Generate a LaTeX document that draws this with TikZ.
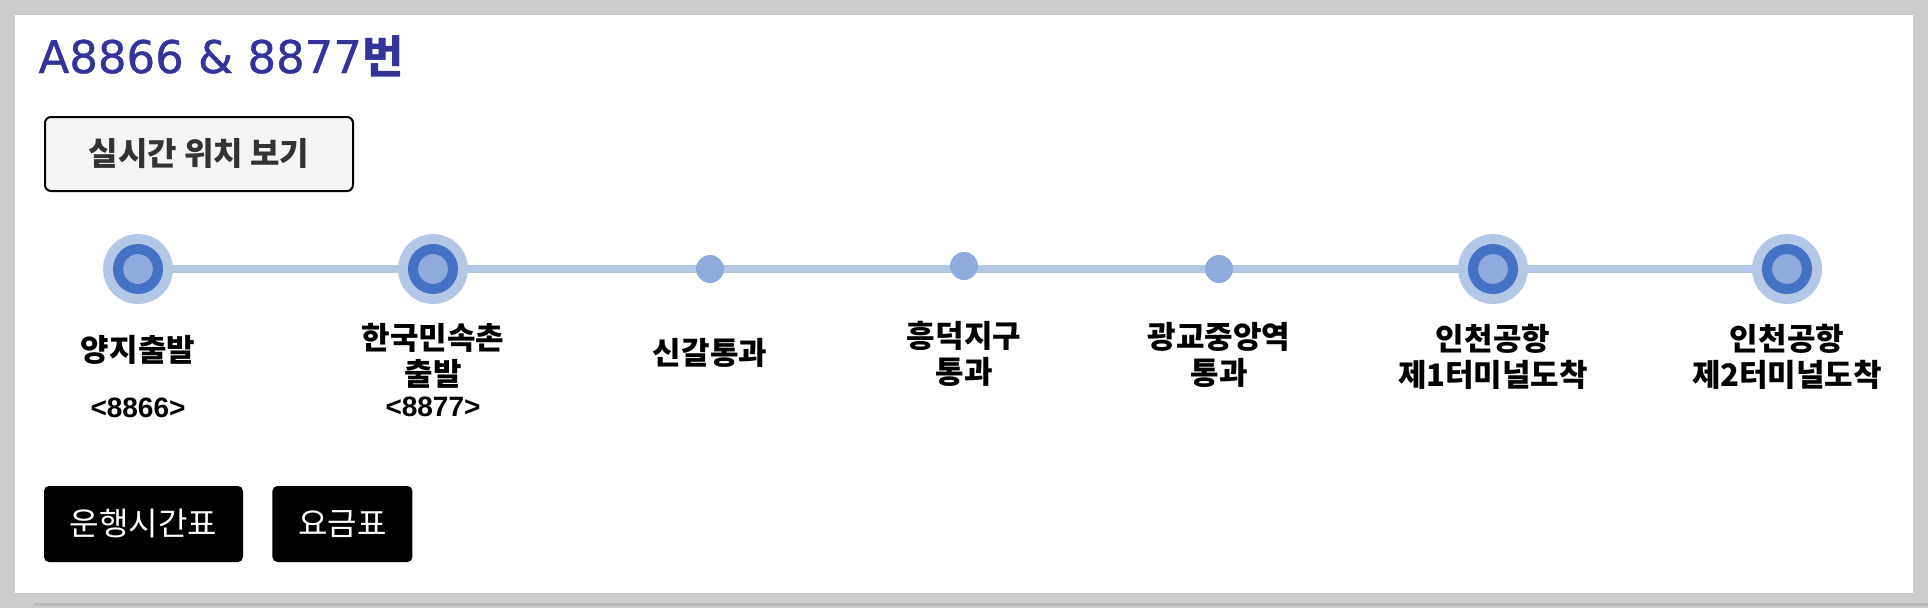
\documentclass[tikz,border=0pt]{standalone}
\usepackage{fontspec}
\setmainfont{Noto Sans CJK KR}
\newfontfamily\titlefont[FakeBold=0.8]{DejaVu Sans}
\newfontfamily\codefont{Liberation Sans}
\usepackage{tikz}
\usetikzlibrary{positioning, backgrounds}
\tikzset{>=latex}
\definecolor{titleblue}{RGB}{51, 51, 153}
\definecolor{routelight}{RGB}{180, 199, 231}
\definecolor{routemid}{RGB}{143, 170, 220}
\definecolor{routedark}{RGB}{68, 114, 196}
\definecolor{panelgray}{RGB}{204, 204, 204}
\definecolor{edgegray}{RGB}{187, 187, 187}
\definecolor{btnfill}{RGB}{245, 245, 245}
\definecolor{btntext}{RGB}{51, 51, 51}
\tikzset{
  bigstop/.style={circle, inner sep=0pt, minimum size=40pt, fill=routemid,
    draw=routedark, line width=10pt, preaction={draw=routelight, line width=30pt}},
  smallstop/.style={circle, inner sep=0pt, minimum size=28pt, fill=routemid},
  route/.style={routelight, line width=8pt},
  stoplabel/.style={align=center, font=\fontsize{31}{36}\selectfont\bfseries},
  stopcode/.style={font=\fontsize{28}{30}\selectfont\codefont\bfseries},
  graybtn/.style={draw=black, line width=2pt, fill=btnfill, rounded corners=6pt,
    text=btntext, font=\fontsize{32}{34}\selectfont\bfseries},
  blackbtn/.style={fill=black, rounded corners=5pt, text=white,
    font=\fontsize{32}{34}\selectfont}
}

\begin{document}
\begin{tikzpicture}[x=1pt, y=-1pt]
\useasboundingbox (0, 0) rectangle (1928, 608);
\begin{pgfonlayer}{background}
\fill[panelgray] (0, 0) rectangle (1928, 608);
\fill[white] (15, 15) rectangle (1913, 593);
\fill[edgegray] (34, 603) rectangle (1928, 606);
\end{pgfonlayer}

\node[anchor=base west, text=titleblue, font=\fontsize{45}{50}\selectfont] (title) at (35, 73)
  {{\titlefont A8866 \& 8877}\bfseries 번};
\node[graybtn, minimum width=308pt, minimum height=74pt] (live) at (199, 154) {실시간 위치 보기};

\node[bigstop] (yangji) at (138, 269) {};
\node[bigstop] (minsok) at (433, 269) {};
\node[smallstop] (singal) at (710, 269) {};
\node[smallstop] (heungdeok) at (964, 266) {};
\node[smallstop] (gwanggyo) at (1219, 269) {};
\node[bigstop] (airport1) at (1493, 269) {};
\node[bigstop] (airport2) at (1787, 269) {};

\begin{pgfonlayer}{background}
\draw[route] (yangji.center) -- (airport2.center);
\end{pgfonlayer}

\node[stoplabel, below=81pt of yangji.center, anchor=center] (yangjilab) {양지출발};
\node[stoplabel, below=87pt of minsok.center, anchor=center] (minsoklab) {한국민속촌\\출발};
\node[stoplabel, below=84pt of singal.center, anchor=center] (singallab) {신갈통과};
\node[stoplabel, below=88pt of heungdeok.center, anchor=center] (heungdeoklab) {흥덕지구\\통과};
\node[stoplabel, below=86pt of gwanggyo.center, anchor=center] (gwanggyolab) {광교중앙역\\통과};
\node[stoplabel, below=88pt of airport1.center, anchor=center] (airport1lab) {인천공항\\제1터미널도착};
\node[stoplabel, below=88pt of airport2.center, anchor=center] (airport2lab) {인천공항\\제2터미널도착};

\node[stopcode, below=139pt of yangji.center, anchor=center] (yangjicode) {<8866>};
\node[stopcode, below=138pt of minsok.center, anchor=center] (minsokcode) {<8877>};

\node[blackbtn, minimum width=199pt, minimum height=76pt] (timetable) at (143.5, 524) {운행시간표};
\node[blackbtn, minimum width=140pt, minimum height=76pt, right=29pt of timetable] (fare) {요금표};

\end{tikzpicture}
\end{document}
